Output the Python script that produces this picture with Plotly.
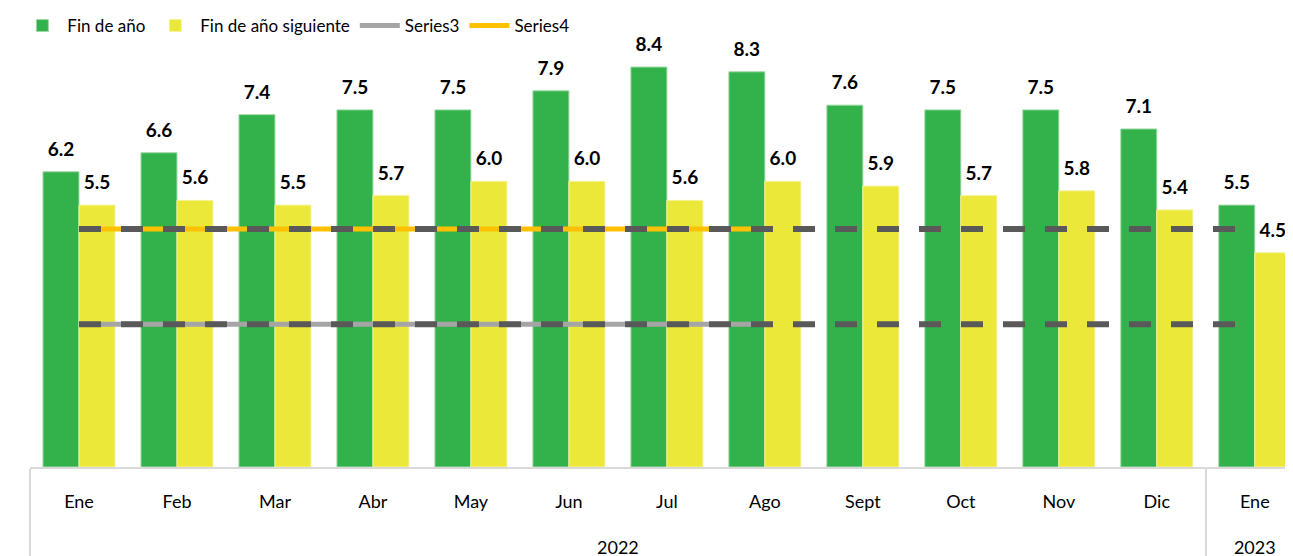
import plotly.graph_objects as go

# Expectativas de inflación (encuesta) por mes de levantamiento
months = ["Ene", "Feb", "Mar", "Abr", "May", "Jun", "Jul", "Ago", "Sept", "Oct", "Nov", "Dic", "Ene"]
years = ["2022"] * 12 + ["2023"]

fin_anio = [6.2, 6.6, 7.4, 7.5, 7.5, 7.9, 8.4, 8.3, 7.6, 7.5, 7.5, 7.1, 5.5]
fin_anio_sig = [5.5, 5.6, 5.5, 5.7, 6.0, 6.0, 5.6, 6.0, 5.9, 5.7, 5.8, 5.4, 4.5]

# rango meta (solo hasta Ago 2022) y referencia punteada en todo el periodo
series3 = [3.0] * 8 + [None] * 5
series4 = [5.0] * 8 + [None] * 5
ref_low = [3.0] * 13
ref_high = [5.0] * 13

FONT = "Lato, 'Open Sans', sans-serif"
# renglón extra (invisible) para separar más el año de los meses
pad = "<br><span style='font-size:51px'>\u00a0</span>"
x = [years, [m + pad for m in months]]

# espacio invisible a ambos lados para despegar la etiqueta de la barra
gap = "<span style='font-size:60px'>\u00a0</span>"
label_tpl = gap + "%{y:.1f}" + gap
label_font = dict(size=19, color="#000000", family=FONT, weight="bold")

fig = go.Figure()
fig.add_bar(
    x=x, y=fin_anio, name="Fin de año",
    marker=dict(color="#33B24C", line=dict(color="#9ED9A6", width=1)),
    texttemplate=label_tpl, textposition="outside", constraintext="none",
    textfont=label_font, cliponaxis=False,
)
fig.add_bar(
    x=x, y=fin_anio_sig, name="Fin de año siguiente",
    marker=dict(color="#EBE83A", line=dict(color="#F5F39A", width=1)),
    texttemplate=label_tpl, textposition="outside", constraintext="none",
    textfont=label_font, cliponaxis=False,
)
fig.add_scatter(x=x, y=series3, name="Series3", mode="lines",
                line=dict(color="#A5A5A5", width=5))
fig.add_scatter(x=x, y=series4, name="Series4", mode="lines",
                line=dict(color="#FFC000", width=5))
for vals in (ref_low, ref_high):
    fig.add_scatter(x=x, y=vals, mode="lines", showlegend=False, hoverinfo="skip",
                    line=dict(color="#595959", width=6, dash="22px,20px"))

fig.update_layout(
    width=1293, height=556,
    margin=dict(l=22, r=8, t=0, b=97),
    paper_bgcolor="white", plot_bgcolor="white",
    barmode="group", bargap=0.265, bargroupgap=0,
    font=dict(family=FONT, size=18, color="#000000"),
    legend=dict(orientation="h", x=-0.01, y=1.0, xanchor="left", yanchor="top",
                font=dict(size=17), bgcolor="rgba(0,0,0,0)", itemwidth=40,
                traceorder="normal"),
    showlegend=True,
)
fig.update_xaxes(
    type="multicategory", range=[-0.5, 12.39], automargin=False,
    showline=True, linecolor="#D9D9D9", linewidth=2,
    showdividers=True, dividercolor="#D9D9D9", dividerwidth=2,
    showgrid=False, ticks="", tickfont=dict(size=18), ticklabelstandoff=17,
)
fig.update_yaxes(range=[0, 9.64], visible=False, showgrid=False, zeroline=False,
                 automargin=False)

fig.write_html("out.html")
